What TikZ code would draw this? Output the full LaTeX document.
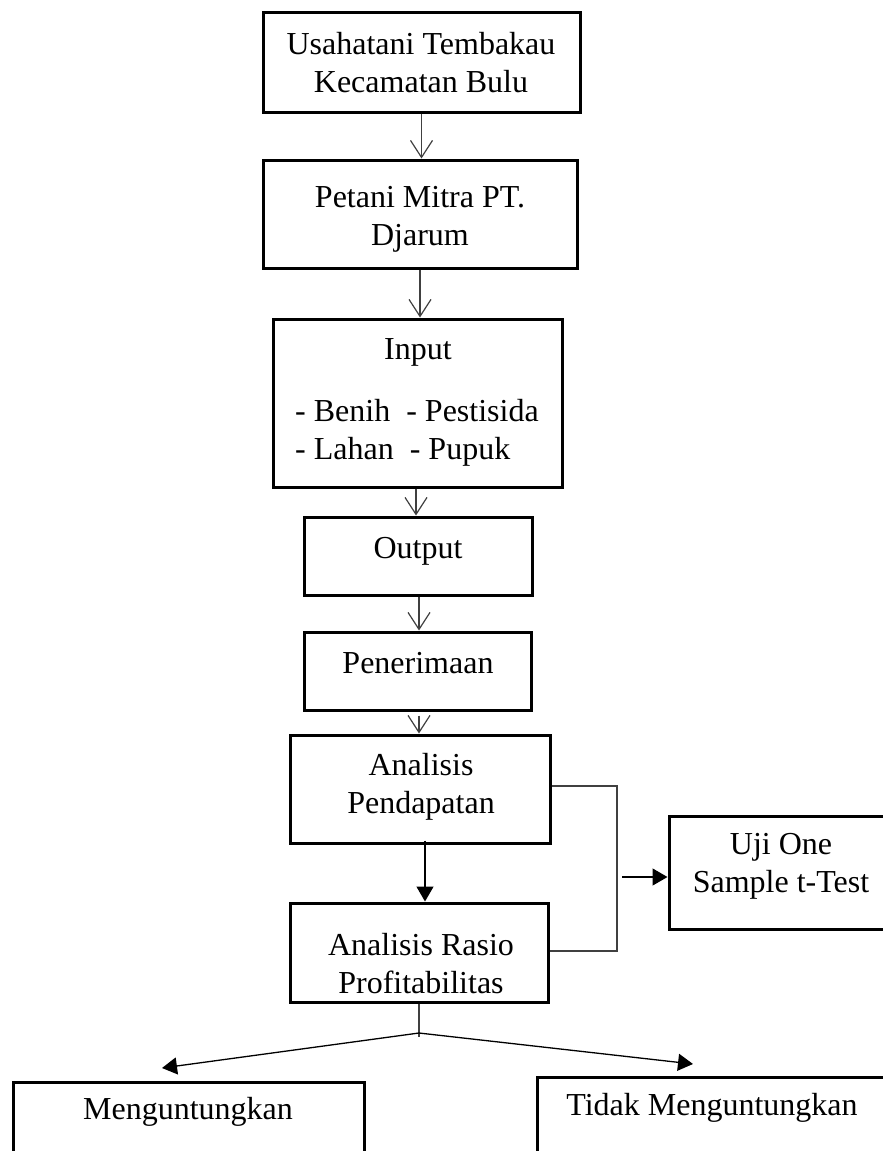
\documentclass[tikz,border=0pt]{standalone}
\usepackage{fontspec}
\setmainfont{Liberation Serif}
\usetikzlibrary{arrows.meta}
\begin{document}
\begin{tikzpicture}[x=1pt,y=-1pt,
  box/.style={draw=black, line width=3pt, inner sep=0pt},
  txt/.style={font=\fontsize{32}{38}\selectfont, align=center, inner sep=0pt},
  openarr/.style={draw=black!75, line width=1.2pt, -{Straight Barb[length=17pt,width=22pt,line width=1.2pt]}},
  fillarr/.style={draw=black, line width=1.3pt, -{Triangle[length=15pt,width=17pt]}},
  plainline/.style={draw=black!75, line width=1.1pt}]
\useasboundingbox (0,0) rectangle (883,1151);
\clip (0,0) rectangle (883,1151);
\fill[white] (0,0) rectangle (883,1151);
% boxes
\node[box, minimum width=317pt, minimum height=100pt] (b1) at (421.5,62) {};
\node[box, minimum width=314pt, minimum height=108pt] (b2) at (420,214) {};
\node[box, minimum width=289pt, minimum height=168pt] (b3) at (417.5,403) {};
\node[box, minimum width=228pt, minimum height=78pt] (b4) at (418,556) {};
\node[box, minimum width=227pt, minimum height=78pt] (b5) at (417.5,671) {};
\node[box, minimum width=260pt, minimum height=108pt] (b6) at (420,789) {};
\node[box, minimum width=258pt, minimum height=99pt] (b7) at (419,952.5) {};
\node[box, minimum width=231pt, minimum height=113pt] (uji) at (784.5,872.5) {};
\node[box, minimum width=351pt, minimum height=93pt] (m) at (188.5,1128.5) {};
\node[box, minimum width=363pt, minimum height=98pt] (tm) at (718.5,1126) {};
% texts
\node[txt] (t1) at (421,63) {Usahatani Tembakau\\Kecamatan Bulu};
\node[txt] (t2) at (420,219) {Petani Mitra PT.\\Djarum};
\node[txt] (t3) at (418,352) {Input};
\node[txt, align=left, anchor=west] (t3b) at (295,433) {- Benih~~- Pestisida\\- Lahan~~- Pupuk};
\node[txt] (t4) at (418,551) {Output};
\node[txt] (t5) at (418,663) {Penerimaan};
\node[txt] (t6) at (421,787) {Analisis\\Pendapatan};
\node[txt] (t7) at (421,964) {Analisis Rasio\\Profitabilitas};
\node[txt] (t8) at (781,866) {Uji One\\Sample t-Test};
\node[txt] (t9) at (188,1112) {Menguntungkan};
\node[txt] (t10) at (712,1108) {Tidak Menguntungkan};
% vertical arrows
\draw[openarr] (b1.south) -- (b1.south |- b2.north);
\draw[openarr] (b2.south) -- (b2.south |- b3.north);
\draw[openarr] ([xshift=-1.5pt]b3.south) -- ([xshift=-1.5pt]b3.south |- b4.north);
\draw[openarr] ([xshift=1pt]b4.south) -- ([xshift=1pt]b4.south |- b5.north);
\draw[openarr] ([xshift=1.5pt,yshift=-4pt]b5.south) -- ([xshift=1.5pt]b5.south |- b6.north);
\draw[fillarr] ([xshift=5pt,yshift=4pt]b6.south) -- ([xshift=5pt]b6.south |- b7.north);
% bracket to Uji
\coordinate (br1) at (617,786);
\coordinate (br2) at (617,951);
\coordinate (ua) at (622,877);
\draw[plainline] (b6.east |- br1) -- (br1) -- (br2) -- (b7.east |- br2);
\draw[fillarr] (ua) -- (uji.west |- ua);
% bottom split
\coordinate (j) at (419,1033);
\coordinate (jend) at (419,1037);
\coordinate (ml) at (162,1068);
\coordinate (mr) at (693,1064);
\draw[plainline] (b7.south -| j) -- (jend);
\draw[fillarr] (j) -- (ml);
\draw[fillarr] (j) -- (mr);
\end{tikzpicture}
\end{document}
